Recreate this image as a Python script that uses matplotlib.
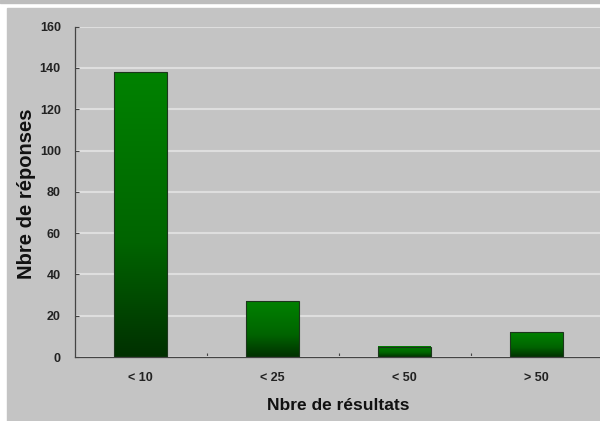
import matplotlib.pyplot as plt
import numpy as np
from matplotlib.colors import LinearSegmentedColormap
from matplotlib.patches import Rectangle
from matplotlib.ticker import FixedLocator

categories = ["< 10", "< 25", "< 50", "> 50"]
reponses = [138, 27, 5, 12]
y_ticks = [0, 20, 40, 60, 80, 100, 120, 140, 160]

narrow = ['Liberation Sans Narrow', 'Liberation Sans', 'DejaVu Sans']
wide = ['Liberation Sans', 'DejaVu Sans']

fig = plt.figure(figsize=(6, 4.21), dpi=100)
fig.patch.set_facecolor('white')

# bande grise en haut + fond gris du graphique
fig.patches.append(Rectangle((0, 1 - 3 / 421), 1, 3 / 421, transform=fig.transFigure,
                             color='#bdbdbd', zorder=-2))
fig.patches.append(Rectangle((7 / 600, 0), 1, 1 - 8 / 421, transform=fig.transFigure,
                             color='#c4c4c4', zorder=-2))

ax = fig.add_axes([74.7 / 600, 1 - 357 / 421, 525.3 / 600, 330.3 / 421])
ax.set_zorder(1)
ax.patch.set_alpha(0)

x = np.arange(len(categories))
bars = ax.bar(x, reponses, width=0.40, color='none', edgecolor='#1c361c', linewidth=0.8, zorder=3)

# dégradé vertical dans chaque barre
cmap = LinearSegmentedColormap.from_list('vert', [(0, '#003000'), (0.4, '#006400'), (1, '#008200')])
grad = np.linspace(0, 1, 256).reshape(-1, 1)
for b in bars:
    ax.imshow(grad, extent=(b.get_x(), b.get_x() + b.get_width(), 0, b.get_height()),
              origin='lower', cmap=cmap, aspect='auto', zorder=2)

ax.set_xlim(-0.5, -0.5 + 525.3 / 132)
ax.set_ylim(0, 160)

ax.set_yticks(y_ticks)
ax.yaxis.grid(True, color='#dedede', linewidth=1.5)
ax.set_axisbelow(True)
ax.tick_params(axis='y', direction='in', length=3, width=0.8, color='#444444', pad=10)
for lbl in ax.get_yticklabels():
    lbl.set_family(narrow)
    lbl.set_fontsize(9)
    lbl.set_fontweight('bold')
    lbl.set_color('#222222')

ax.set_xticks(x)
ax.set_xticklabels(categories, family=narrow, fontsize=9, fontweight='bold', color='#222222')
ax.tick_params(axis='x', which='major', length=0, pad=11)
ax.xaxis.set_minor_locator(FixedLocator([0.5, 1.5, 2.5]))
ax.tick_params(axis='x', which='minor', direction='in', length=3, width=0.8, color='#444444')

for side in ['top', 'right']:
    ax.spines[side].set_visible(False)
for side in ['left', 'bottom']:
    ax.spines[side].set_color('#444444')
    ax.spines[side].set_linewidth(0.9)

ax.set_xlabel('Nbre de résultats', family=narrow, fontsize=12.5, fontweight='bold', color='#111111')
ax.xaxis.set_label_coords(0.501, -0.148)
ax.xaxis.label.set_va('center')

fig.text(26.5 / 600, 1 - 194 / 421, 'Nbre de réponses', family=wide, fontsize=14.5,
         fontweight='bold', color='#111111', rotation=90, ha='center', va='center')

fig.savefig('out.png', dpi=100)
